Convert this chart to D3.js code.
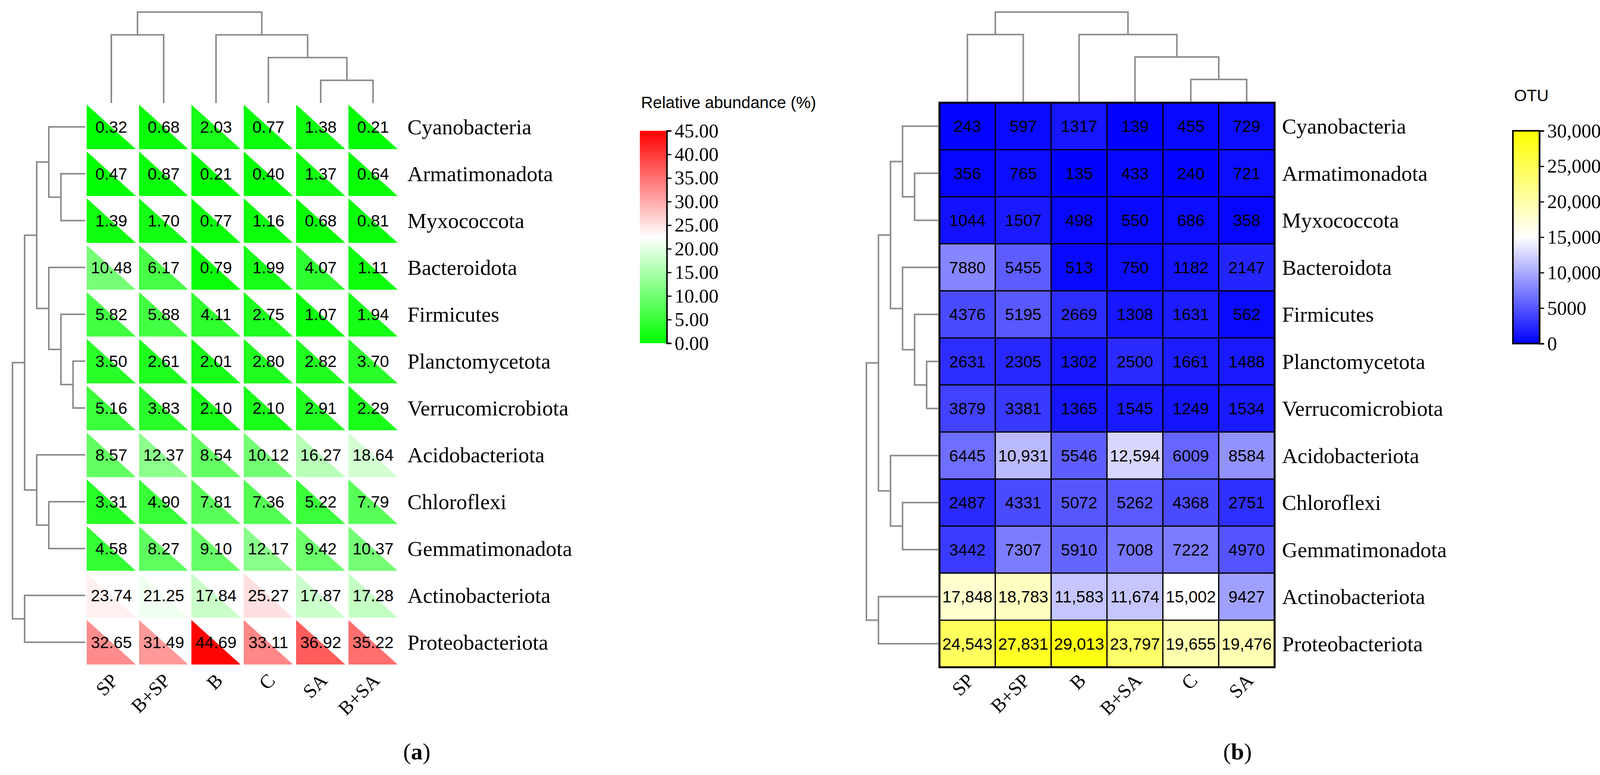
<!DOCTYPE html>
<html>
<head>
<meta charset="utf-8">
<script src="https://cdn.jsdelivr.net/npm/d3@7"></script>
<style>
  body { margin: 0; background: #fff; }
</style>
</head>
<body>
<div id="chart"></div>
<script>
//row names shared by both heatmaps
const phyla = ["Cyanobacteria", "Armatimonadota", "Myxococcota", "Bacteroidota", "Firmicutes",
  "Planctomycetota", "Verrucomicrobiota", "Acidobacteriota", "Chloroflexi", "Gemmatimonadota",
  "Actinobacteriota", "Proteobacteriota"];

//panel (a) columns and relative abundance (%)
const groupsA = ["SP", "B+SP", "B", "C", "SA", "B+SA"];
const abundance = [
  [0.32, 0.68, 2.03, 0.77, 1.38, 0.21],
  [0.47, 0.87, 0.21, 0.40, 1.37, 0.64],
  [1.39, 1.70, 0.77, 1.16, 0.68, 0.81],
  [10.48, 6.17, 0.79, 1.99, 4.07, 1.11],
  [5.82, 5.88, 4.11, 2.75, 1.07, 1.94],
  [3.50, 2.61, 2.01, 2.80, 2.82, 3.70],
  [5.16, 3.83, 2.10, 2.10, 2.91, 2.29],
  [8.57, 12.37, 8.54, 10.12, 16.27, 18.64],
  [3.31, 4.90, 7.81, 7.36, 5.22, 7.79],
  [4.58, 8.27, 9.10, 12.17, 9.42, 10.37],
  [23.74, 21.25, 17.84, 25.27, 17.87, 17.28],
  [32.65, 31.49, 44.69, 33.11, 36.92, 35.22]
];

//panel (b) columns and OTU counts
const groupsB = ["SP", "B+SP", "B", "B+SA", "C", "SA"];
const otu = [
  [243, 597, 1317, 139, 455, 729],
  [356, 765, 135, 433, 240, 721],
  [1044, 1507, 498, 550, 686, 358],
  [7880, 5455, 513, 750, 1182, 2147],
  [4376, 5195, 2669, 1308, 1631, 562],
  [2631, 2305, 1302, 2500, 1661, 1488],
  [3879, 3381, 1365, 1545, 1249, 1534],
  [6445, 10931, 5546, 12594, 6009, 8584],
  [2487, 4331, 5072, 5262, 4368, 2751],
  [3442, 7307, 5910, 7008, 7222, 4970],
  [17848, 18783, 11583, 11674, 15002, 9427],
  [24543, 27831, 29013, 23797, 19655, 19476]
];

//legend ticks
const ticksA = [0, 5, 10, 15, 20, 25, 30, 35, 40, 45];
const ticksB = [0, 5000, 10000, 15000, 20000, 25000, 30000];

//dendrograms: [height, left, right], a plain number is a leaf index
const rowTree = [6, [5, [4, [3, 0, [2, 1, 2]], [3, 3, [2, 4, [1, 5, 6]]]], [4, 7, [3, 8, 9]]], [5, 10, 11]];
const colTree = [4, [3, 0, 1], [3, 2, [2, 3, [1, 4, 5]]]];

const W = 4127, H = 1985;
const serif = "'Liberation Serif', 'Times New Roman', serif";
const sans = "'Liberation Sans', Arial, sans-serif";
const treeColor = "#8c8c8c";

const svg = d3.select("#chart").append("svg")
  .attr("width", W).attr("height", H)
  .style("background", "#fff");

const defs = svg.append("defs");

//vertical gradient used by the colour bars (bottom -> top)
function addGradient(id, colors) {
  const g = defs.append("linearGradient").attr("id", id)
    .attr("x1", 0).attr("y1", 1).attr("x2", 0).attr("y2", 0);
  colors.forEach((c, i) => {
    g.append("stop").attr("offset", i / (colors.length - 1)).attr("stop-color", c);
  });
}

//draws a dendrogram recursively; horizontal=true for the row tree on the left
function drawTree(g, node, band, hScale, horizontal) {
  if (typeof node === "number") {
    return { pos: band(node) + band.bandwidth() / 2, h: 0 };
  }
  const a = drawTree(g, node[1], band, hScale, horizontal);
  const b = drawTree(g, node[2], band, hScale, horizontal);
  const h = hScale(node[0]);
  const pts = horizontal
    ? [[hScale(a.h), a.pos], [h, a.pos], [h, b.pos], [hScale(b.h), b.pos]]
    : [[a.pos, hScale(a.h)], [a.pos, h], [b.pos, h], [b.pos, hScale(b.h)]];
  g.append("path")
    .attr("d", d3.line()(pts))
    .attr("fill", "none")
    .attr("stroke", treeColor)
    .attr("stroke-width", 4);
  return { pos: (a.pos + b.pos) / 2, h: node[0] };
}

//rotated column labels under a heatmap
function colLabels(xScale, groups, y) {
  svg.append("g").selectAll("text")
    .data(groups)
    .enter()
    .append("text")
    .attr("transform", (d, i) => `translate(${xScale(i) + xScale.bandwidth() / 2 + 20},${y}) rotate(-45)`)
    .attr("text-anchor", "end")
    .style("font-family", serif)
    .style("font-size", "50px")
    .text((d) => d);
}

//row labels to the right of a heatmap
function rowLabels(yScale, x) {
  svg.append("g").selectAll("text")
    .data(phyla)
    .enter()
    .append("text")
    .attr("x", x)
    .attr("y", (d, i) => yScale(i) + yScale.bandwidth() / 2 + 19)
    .style("font-family", serif)
    .style("font-size", "55px")
    .text((d) => d);
}

// ---------------- panel (a) ----------------
const xA = d3.scaleBand().domain(d3.range(6)).range([222, 1018]).paddingInner(0.06);
const yA = d3.scaleBand().domain(d3.range(12)).range([268, 1702]).paddingInner(0.05);
const colorA = d3.scaleLinear().domain([0, 22.5, 45]).range(["#00ff00", "#ffffff", "#ff0000"]);

const cellsA = [];
abundance.forEach((row, r) => row.forEach((v, c) => cellsA.push({ r, c, v })));

//lower-left triangle for each cell
svg.append("g").selectAll("path")
  .data(cellsA)
  .enter()
  .append("path")
  .attr("d", (d) => {
    const x0 = xA(d.c), y0 = yA(d.r), w = xA.bandwidth(), h = yA.bandwidth();
    return `M${x0},${y0}L${x0},${y0 + h}L${x0 + w},${y0 + h}Z`;
  })
  .attr("fill", (d) => colorA(d.v));

svg.append("g").selectAll("text")
  .data(cellsA)
  .enter()
  .append("text")
  .attr("x", (d) => xA(d.c) + xA.bandwidth() / 2)
  .attr("y", (d) => yA(d.r) + yA.bandwidth() / 2 + 15)
  .attr("text-anchor", "middle")
  .style("font-family", sans)
  .style("font-size", "42px")
  .text((d) => d.v.toFixed(2));

drawTree(svg.append("g"), rowTree, yA, d3.scaleLinear().domain([0, 6]).range([218, 32]), true);
drawTree(svg.append("g"), colTree, xA, d3.scaleLinear().domain([0, 4]).range([264, 31]), false);
rowLabels(yA, 1043);
colLabels(xA, groupsA, 1746);

//legend (a)
addGradient("gradA", ["#00ff00", "#ffffff", "#ff0000"]);
const legA = d3.scaleLinear().domain([0, 45]).range([879, 335]);
svg.append("rect")
  .attr("x", 1638).attr("y", legA(45))
  .attr("width", 69).attr("height", legA(0) - legA(45))
  .attr("fill", "url(#gradA)");
const axA = svg.append("g")
  .attr("transform", "translate(1707,0)")
  .call(d3.axisRight(legA).tickValues(ticksA).tickFormat(d3.format(".2f")).tickSize(12).tickPadding(8));
axA.select(".domain").attr("stroke-width", 4);
axA.selectAll(".tick line").attr("stroke-width", 3);
axA.selectAll(".tick text").style("font-family", serif).style("font-size", "50px").attr("fill", "#000");
svg.append("text")
  .attr("x", 1641).attr("y", 277)
  .style("font-family", sans).style("font-size", "42px")
  .text("Relative abundance (%)");

// ---------------- panel (b) ----------------
const xB = d3.scaleBand().domain(d3.range(6)).range([2405, 3263]);
const yB = d3.scaleBand().domain(d3.range(12)).range([263, 1709]);
const colorB = d3.scaleLinear().domain([0, 15000, 30000]).range(["#0000ff", "#ffffff", "#ffff00"]);
const fmtB = (v) => (v >= 10000 ? d3.format(",")(v) : String(v));

const cellsB = [];
otu.forEach((row, r) => row.forEach((v, c) => cellsB.push({ r, c, v })));

svg.append("g").selectAll("rect")
  .data(cellsB)
  .enter()
  .append("rect")
  .attr("x", (d) => xB(d.c))
  .attr("y", (d) => yB(d.r))
  .attr("width", xB.bandwidth())
  .attr("height", yB.bandwidth())
  .attr("fill", (d) => colorB(d.v))
  .attr("stroke", "#000")
  .attr("stroke-width", 3);

svg.append("rect")
  .attr("x", 2405).attr("y", 263)
  .attr("width", 3263 - 2405).attr("height", 1709 - 263)
  .attr("fill", "none").attr("stroke", "#000").attr("stroke-width", 5);

svg.append("g").selectAll("text")
  .data(cellsB)
  .enter()
  .append("text")
  .attr("x", (d) => xB(d.c) + xB.bandwidth() / 2)
  .attr("y", (d) => yB(d.r) + yB.bandwidth() / 2 + 15)
  .attr("text-anchor", "middle")
  .style("font-family", sans)
  .style("font-size", "42px")
  .text((d) => fmtB(d.v));

drawTree(svg.append("g"), rowTree, yB, d3.scaleLinear().domain([0, 6]).range([2403, 2218]), true);
drawTree(svg.append("g"), colTree, xB, d3.scaleLinear().domain([0, 4]).range([261, 31]), false);
rowLabels(yB, 3282);
colLabels(xB, groupsB, 1746);

//legend (b)
addGradient("gradB", ["#0000ff", "#ffffff", "#ffff00"]);
const legB = d3.scaleLinear().domain([0, 30000]).range([880, 335]);
svg.append("rect")
  .attr("x", 3873).attr("y", legB(30000))
  .attr("width", 68).attr("height", legB(0) - legB(30000))
  .attr("fill", "url(#gradB)")
  .attr("stroke", "#000").attr("stroke-width", 4);
const axB = svg.append("g")
  .attr("transform", "translate(3941,0)")
  .call(d3.axisRight(legB).tickValues(ticksB).tickFormat(fmtB).tickSize(12).tickPadding(8));
axB.select(".domain").attr("stroke-width", 4);
axB.selectAll(".tick line").attr("stroke-width", 3);
axB.selectAll(".tick text").style("font-family", serif).style("font-size", "50px").attr("fill", "#000");
svg.append("text")
  .attr("x", 3876).attr("y", 259)
  .style("font-family", sans).style("font-size", "42px")
  .text("OTU");

// ---------------- panel captions ----------------
[["a", 1067], ["b", 3168]].forEach(([t, x]) => {
  const cap = svg.append("text")
    .attr("x", x).attr("y", 1945)
    .attr("text-anchor", "middle")
    .style("font-family", serif)
    .style("font-size", "60px");
  cap.append("tspan").text("(");
  cap.append("tspan").style("font-weight", "bold").text(t);
  cap.append("tspan").text(")");
});
</script>
</body>
</html>
